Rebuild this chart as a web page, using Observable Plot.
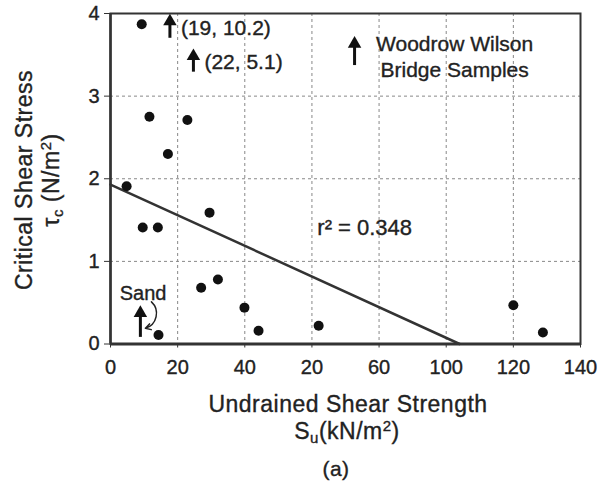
<!DOCTYPE html>
<html><head><meta charset="utf-8">
<script src="https://cdn.jsdelivr.net/npm/d3@7"></script>
<script src="https://cdn.jsdelivr.net/npm/@observablehq/plot@0.6"></script>
<style>body{margin:0;background:#fff} svg text{stroke:#222;stroke-width:0.35px}</style>
</head><body><div id="chart"></div>
<script>
// Undrained shear strength Su (kN/m2) and critical shear stress tau_c (N/m2)
const su  = [9.3, 11.6, 22.9, 17.1, 4.8, 9.6, 14.1, 29.5, 27.0, 32.0, 39.9, 44.1, 62.0, 14.3, 120.0, 128.8];
const tau = [3.87, 2.75, 2.71, 2.30, 1.91, 1.41, 1.41, 1.59, 0.68, 0.78, 0.44, 0.16, 0.22, 0.11, 0.47, 0.14];

const xTickValues = [0, 20, 40, 60, 80, 100, 120, 140];
const xTickLabels = ["0", "20", "40", "20", "60", "100", "120", "140"];
const yTickValues = [0, 1, 2, 3, 4];
const xGrid = [20, 40, 60, 80, 100, 120];
const yGrid = [1, 2, 3];

// regression line end points
const fitSu = [0, 104];
const fitTau = [1.93, 0];
const r2Label = "r² = 0.348";
const r2Su = 61.6, r2Tau = 1.40;

// off-scale samples (upward arrows)
const arrowLabels = ["(19, 10.2)", "(22, 5.1)"];
const arrowSu = [17.7, 24.7];
const arrowLow = [3.70, 3.29];
const arrowHigh = [3.94, 3.52];

// legend
const legendText = "Woodrow Wilson\nBridge Samples";
const legendArrowSu = 72.7, legendArrowLow = 3.37, legendArrowHigh = 3.67;
const legendTextSu = 102.5, legendTextTau = 3.495;

// sand annotation
const sandText = "Sand";
const sandTextSu = 9.7, sandTextTau = 0.615;
const sandArrowSu = 8.9, sandArrowLow = 0.08, sandArrowHigh = 0.41;
const sandCurve = {x1: 12.2, y1: 0.51, x2: 10.4, y2: 0.19};

const points = su.map((s, i) => ({su: s, tau: tau[i]}));
const fit = fitSu.map((s, i) => ({su: s, tau: fitTau[i]}));
const arrows = arrowLabels.map((l, i) => ({label: l, su: arrowSu[i], lo: arrowLow[i], hi: arrowHigh[i]}));
arrows.push({label: "", su: legendArrowSu, lo: legendArrowLow, hi: legendArrowHigh});
arrows.push({label: "", su: sandArrowSu, lo: sandArrowLow, hi: sandArrowHigh});

const FONT = "'Liberation Sans', Arial, Helvetica, sans-serif";
const INK = "#222";

const plot = Plot.plot({
  width: 603, height: 486,
  marginLeft: 110, marginRight: 23, marginTop: 13, marginBottom: 142.5,
  style: {fontFamily: FONT, fontSize: "20px", color: INK, background: "#fff"},
  x: {domain: [0, 140]},
  y: {domain: [0, 4]},
  marks: [
    Plot.gridX(xGrid, {stroke: "#888", strokeOpacity: 1, strokeDasharray: "3,3", strokeWidth: 1}),
    Plot.gridY(yGrid, {stroke: "#888", strokeOpacity: 1, strokeDasharray: "3,3", strokeWidth: 1}),
    Plot.frame({stroke: "#333", strokeWidth: 2}),
    Plot.ruleY([0], {stroke: "#333", strokeWidth: 3}),
    Plot.ruleX([0], {stroke: "#333", strokeWidth: 2.5}),
    Plot.axisX({ticks: xTickValues, tickFormat: d => xTickLabels[xTickValues.indexOf(d)],
      tickSize: 4, tickPadding: 12, label: null, fontSize: 20, stroke: "#333"}),
    Plot.axisY({ticks: yTickValues, tickFormat: d => String(d), tickSize: 6, tickPadding: 5,
      label: null, fontSize: 20, stroke: "#333"}),
    Plot.line(fit, {x: "su", y: "tau", stroke: "#333", strokeWidth: 2.5}),
    Plot.dot(points, {x: "su", y: "tau", r: 5, fill: "#111", stroke: "none"}),
    // upward arrows: shaft + head
    Plot.ruleX(arrows, {x: "su", y1: "lo", y2: "hi", stroke: "#111", strokeWidth: 3}),
    Plot.dot(arrows, {x: "su", y: "hi", symbol: "triangle", r: 5, fill: "#111", stroke: "none", dy: 3}),
    Plot.text(arrows, {x: "su", y: d => (d.lo + d.hi) / 2, text: "label", textAnchor: "start", dx: 11,
      fontSize: 21, fill: INK, lineAnchor: "middle"}),
    Plot.text([legendText], {x: legendTextSu, y: legendTextTau, textAnchor: "middle", lineAnchor: "middle",
      lineHeight: 1.24, fontSize: 21, fill: INK}),
    Plot.text([r2Label], {x: r2Su, y: r2Tau, textAnchor: "start", lineAnchor: "middle", fontSize: 22, fill: INK}),
    Plot.text([sandText], {x: sandTextSu, y: sandTextTau, textAnchor: "middle", lineAnchor: "middle", fontSize: 20, fill: INK}),
    Plot.arrow([sandCurve], {x1: "x1", y1: "y1", x2: "x2", y2: "y2", bend: 60, headLength: 6,
      stroke: "#222", strokeWidth: 1.5})
  ]
});

const svg = d3.select(plot);
function addText(x, y, rotate, parts, size) {
  const t = svg.append("text")
    .attr("text-anchor", "middle")
    .attr("font-family", FONT)
    .attr("font-size", size)
    .attr("fill", INK)
    .attr("letter-spacing", "0.5px")
    .attr("transform", `translate(${x},${y})` + (rotate ? ` rotate(${rotate})` : ""));
  let shift = 0;
  for (const p of parts) {
    const ts = t.append("tspan").text(p.t);
    const target = p.sub ? 4 : p.sup ? -8 : 0;
    if (target !== shift) { ts.attr("dy", target - shift); shift = target; }
    if (p.sub || p.sup) ts.attr("font-size", Math.round(size * 0.66));
  }
}
addText(32, 180, -90, [{t: "Critical Shear Stress"}], 23);
addText(59, 180, -90, [{t: "τ"}, {t: "c", sub: true}, {t: " (N/m"}, {t: "2", sup: true}, {t: ")"}], 23);
addText(348, 412, 0, [{t: "Undrained Shear Strength"}], 23);
addText(347, 439, 0, [{t: "S"}, {t: "u", sub: true}, {t: "(kN/m"}, {t: "2", sup: true}, {t: ")"}], 23);
addText(336, 476, 0, [{t: "(a)"}], 21);

document.getElementById("chart").append(plot);
</script>
</body></html>
